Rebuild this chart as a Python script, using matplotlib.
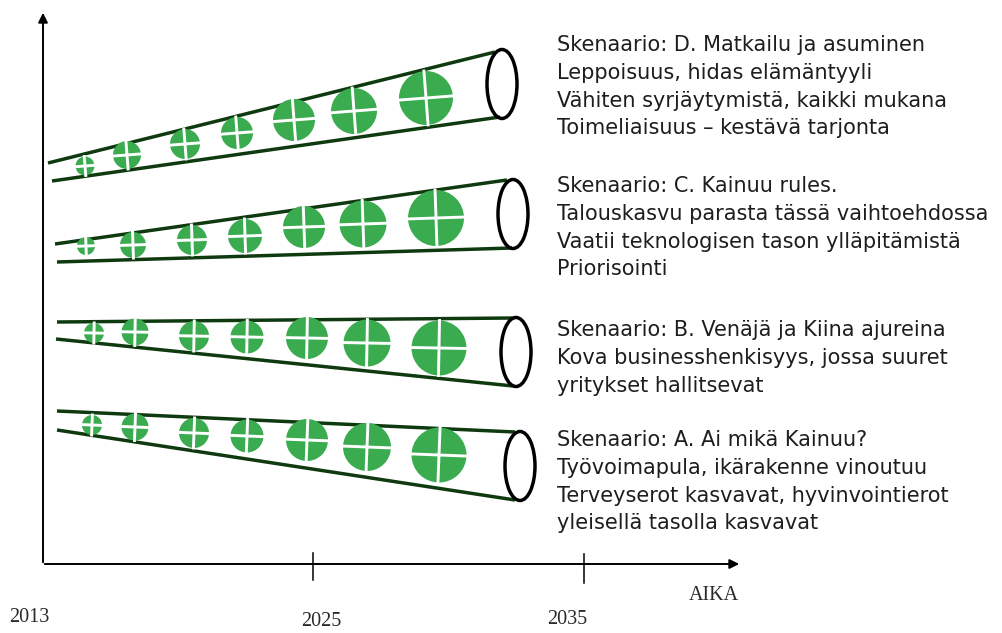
import numpy as np
import matplotlib.pyplot as plt
from matplotlib.patches import Circle, Ellipse

# time axis
years = ["2013", "2025", "2035"]
axis_label = "AIKA"

# scenario texts, top to bottom
scenarios = [
    ["Skenaario: D. Matkailu ja asuminen", "Leppoisuus, hidas elämäntyyli",
     "Vähiten syrjäytymistä, kaikki mukana", "Toimeliaisuus – kestävä tarjonta"],
    ["Skenaario: C. Kainuu rules.", "Talouskasvu parasta tässä vaihtoehdossa",
     "Vaatii teknologisen tason ylläpitämistä", "Priorisointi"],
    ["Skenaario: B. Venäjä ja Kiina ajureina", "Kova businesshenkisyys, jossa suuret",
     "yritykset hallitsevat"],
    ["Skenaario: A. Ai mikä Kainuu?", "Työvoimapula, ikärakenne vinoutuu",
     "Terveyserot kasvavat, hyvinvointierot", "yleisellä tasolla kasvavat"],
]

# funnel edges (pixel coords): top line, bottom line, mouth ellipse centre
funnel_top = [((48, 163), (495, 52)), ((55, 244), (507, 180)),
              ((57, 322), (513, 318)), ((57, 411), (515, 432))]
funnel_bot = [((52, 181), (500, 117)), ((57, 262), (512, 248)),
              ((56, 339), (513, 386)), ((57, 430), (515, 500))]
mouth = [(502, 84), (513, 214), (516, 352), (520, 466)]

# circles along each funnel: x centre, y centre, radius
circ_x = [[85, 127, 185, 237, 294, 354, 426],
          [86, 133, 192, 245, 304, 363, 436],
          [94, 135, 194, 247, 307, 367, 439],
          [92, 135, 194, 247, 307, 367, 439]]
circ_y = [[166, 155, 144, 133, 120, 111, 98],
          [246, 245, 240, 236, 227, 224, 218],
          [333, 332, 336, 337, 338, 343, 348],
          [425, 427, 433, 436, 440, 447, 455]]
circ_r = [[9.5, 14, 15, 16, 21, 23, 27],
          [9, 13, 15, 17, 21, 23.5, 28],
          [10, 13.5, 15, 16.5, 21, 23.5, 27.5],
          [10, 13.5, 15, 16.5, 21, 24, 27.5]]

W, H = 1002, 633
fig = plt.figure(figsize=(W / 100, H / 100), dpi=100)
ax = fig.add_axes([0, 0, 1, 1])
ax.set_xlim(0, W)
ax.set_ylim(H, 0)
ax.axis("off")

line_green = "#0f3a10"
fill_green = "#3aab4f"

# axes with arrows
ax.annotate("", xy=(43, 10), xytext=(43, 565),
            arrowprops=dict(arrowstyle="-|>", color="black", lw=1.4, mutation_scale=14))
ax.annotate("", xy=(742, 564), xytext=(42, 564),
            arrowprops=dict(arrowstyle="-|>", color="black", lw=1.4, mutation_scale=14))
ax.plot([313, 313], [553, 580], color="black", lw=1.1)
ax.plot([584, 584], [554, 583], color="black", lw=1.1)

serif = dict(family="Liberation Serif", fontsize=14.5, color="#2a2a2a")
ax.text(29, 617, years[0], ha="center", va="center", **serif)
ax.text(321, 621, years[1], ha="center", va="center", **serif)
ax.text(567, 620, years[2], ha="center", va="center", **serif)
ax.text(714, 596, axis_label, ha="center", va="center", **serif)

for i in range(4):
    (x0, y0), (x1, y1) = funnel_top[i]
    ax.plot([x0, x1], [y0, y1], color=line_green, lw=2.5, solid_capstyle="butt")
    (x0, y0), (x1, y1) = funnel_bot[i]
    ax.plot([x0, x1], [y0, y1], color=line_green, lw=2.5, solid_capstyle="butt")
    ax.add_patch(Ellipse(mouth[i], 30, 69, fill=False, ec="black", lw=2.5, zorder=3))

    # crosses tilt a little with the funnel
    mx0 = (funnel_top[i][0][0] + funnel_bot[i][0][0]) / 2
    my0 = (funnel_top[i][0][1] + funnel_bot[i][0][1]) / 2
    a = 0.4 * np.arctan2(mouth[i][1] - my0, mouth[i][0] - mx0)
    ux, uy = np.cos(a), np.sin(a)
    for cx, cy, r in zip(circ_x[i], circ_y[i], circ_r[i]):
        ax.add_patch(Circle((cx, cy), r, color=fill_green, lw=0, zorder=2))
        ax.plot([cx - ux * r, cx + ux * r], [cy - uy * r, cy + uy * r],
                color="white", lw=2.1, zorder=2.5)
        ax.plot([cx + uy * r, cx - uy * r], [cy - ux * r, cy + ux * r],
                color="white", lw=2.1, zorder=2.5)

text_y0 = [45, 186, 330, 440]
for i, lines in enumerate(scenarios):
    for j, s in enumerate(lines):
        ax.text(557, text_y0[i] + j * 27.8, s, ha="left", va="center",
                family="DejaVu Sans", fontsize=15, color="#1e1e1e")

fig.savefig("out.png", dpi=100)
